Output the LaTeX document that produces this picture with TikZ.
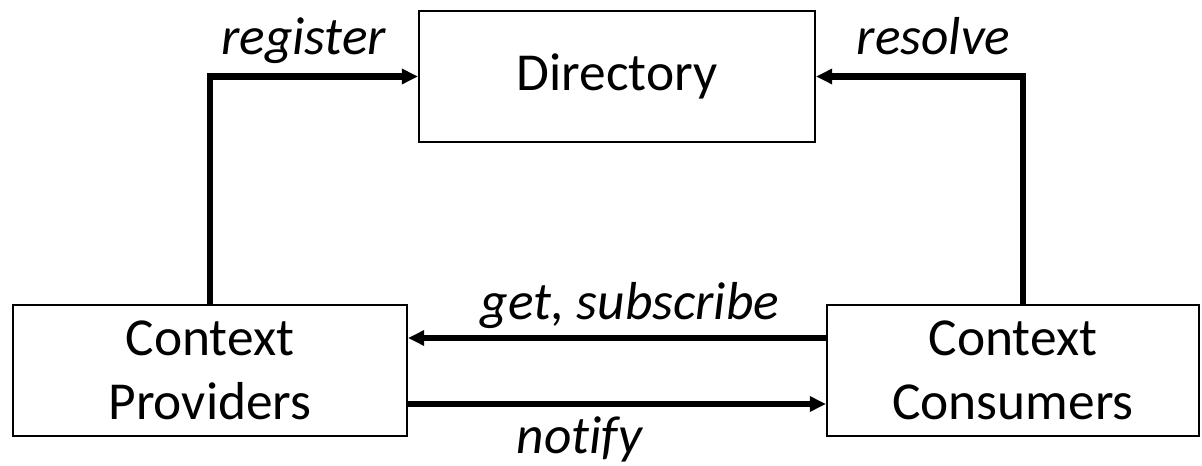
\documentclass[tikz,border=0pt]{standalone}
\usepackage{fontspec}
\setmainfont[Ligatures=NoCommon]{Carlito}
\usepackage{tikz}
\usetikzlibrary{arrows.meta,positioning}

\begin{document}
\begin{tikzpicture}[
  box/.style = {draw, line width=.6pt, align=center, minimum height=1.31cm,
                font=\fontsize{15.2}{18.4}\selectfont},
  flow/.style = {line width=1.9pt, -{Triangle[length=4.6pt,width=4.2pt]}},
  lbl/.style = {font=\fontsize{15.2}{17}\selectfont\itshape, anchor=base}]
 \useasboundingbox (0,0) rectangle (12.02,4.65);
 \node[box, minimum width=3.96cm] (dir) at (6.17,3.885) {Directory};
 \node[box, minimum width=3.94cm] (prov) at (2.10,0.945) {Context\\Providers};
 \node[box, minimum width=3.72cm] (cons) at (10.13,0.945) {Context\\Consumers};
  \draw[flow] (prov.north) |- (dir.west)
      node[lbl, pos=.725, yshift=2.2mm] {register};
  \draw[flow] ([xshift=1mm]cons.north) |- (dir.east)
      node[lbl, pos=.716, yshift=2.2mm] {resolve};
  \draw[flow] ([yshift=3.25mm]cons.west) -- ([yshift=3.25mm]prov.east)
      node[lbl, pos=.469, yshift=1.8mm] {get, subscribe};
  \draw[flow] ([yshift=-3.35mm]prov.east) -- ([yshift=-3.35mm]cons.west)
      node[lbl, pos=.41, yshift=-4.9mm] {notify};
\end{tikzpicture}
\end{document}
